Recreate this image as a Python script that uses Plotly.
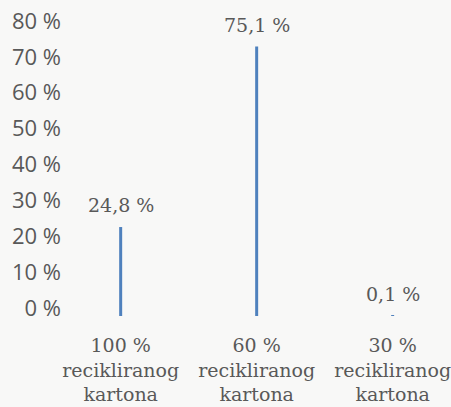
import plotly.graph_objects as go

categories = ["100 %<br>recikliranog<br>kartona", "60 %<br>recikliranog<br>kartona", "30 %<br>recikliranog<br>kartona"]
values = [24.8, 75.1, 0.1]
value_labels = ["24,8 %", "75,1 %", "0,1 %"]
y_ticks = [0, 10, 20, 30, 40, 50, 60, 70, 80]
y_tick_labels = ["0 %", "10 %", "20 %", "30 %", "40 %", "50 %", "60 %", "70 %", "80 %"]

text_color = "#595959"
bar_color = "#4f81bd"
bg_color = "#f8f8f7"

fig = go.Figure()
fig.add_trace(go.Bar(
    x=[0, 1, 2], y=values, width=0.022,
    marker=dict(color=bar_color, line=dict(width=0)),
    hoverinfo="skip",
))

for i, (v, t) in enumerate(zip(values, value_labels)):
    fig.add_annotation(x=i, y=v, text=t, showarrow=False, yanchor="middle", yshift=22,
                       font=dict(family="DejaVu Serif", size=19, color=text_color))

fig.update_layout(
    width=451, height=407,
    margin=dict(l=66, r=0, t=29, b=91),
    paper_bgcolor=bg_color, plot_bgcolor="rgba(0,0,0,0)",
    showlegend=False,
    xaxis=dict(
        range=[-0.402, 2.429], tickmode="array", tickvals=[0, 1, 2], ticktext=categories,
        showgrid=False, zeroline=False, showline=False, ticks="",
        tickfont=dict(family="DejaVu Serif", size=19, color=text_color),
        ticklabelstandoff=16, ticklabeloverflow="allow",
    ),
    yaxis=dict(
        range=[0, 80], tickmode="array", tickvals=y_ticks, ticktext=y_tick_labels,
        showgrid=False, zeroline=False, showline=False, ticks="",
        tickfont=dict(family="Open Sans", size=22, color=text_color),
        ticklabelshift=-8, ticklabelstandoff=4,
    ),
)

fig.write_html(
    "out.html",
    config={"displayModeBar": False},
    post_script="document.body.style.margin='0';document.body.style.padding='0';"
                "document.body.style.overflow='hidden';document.body.style.background='" + bg_color + "';",
)
